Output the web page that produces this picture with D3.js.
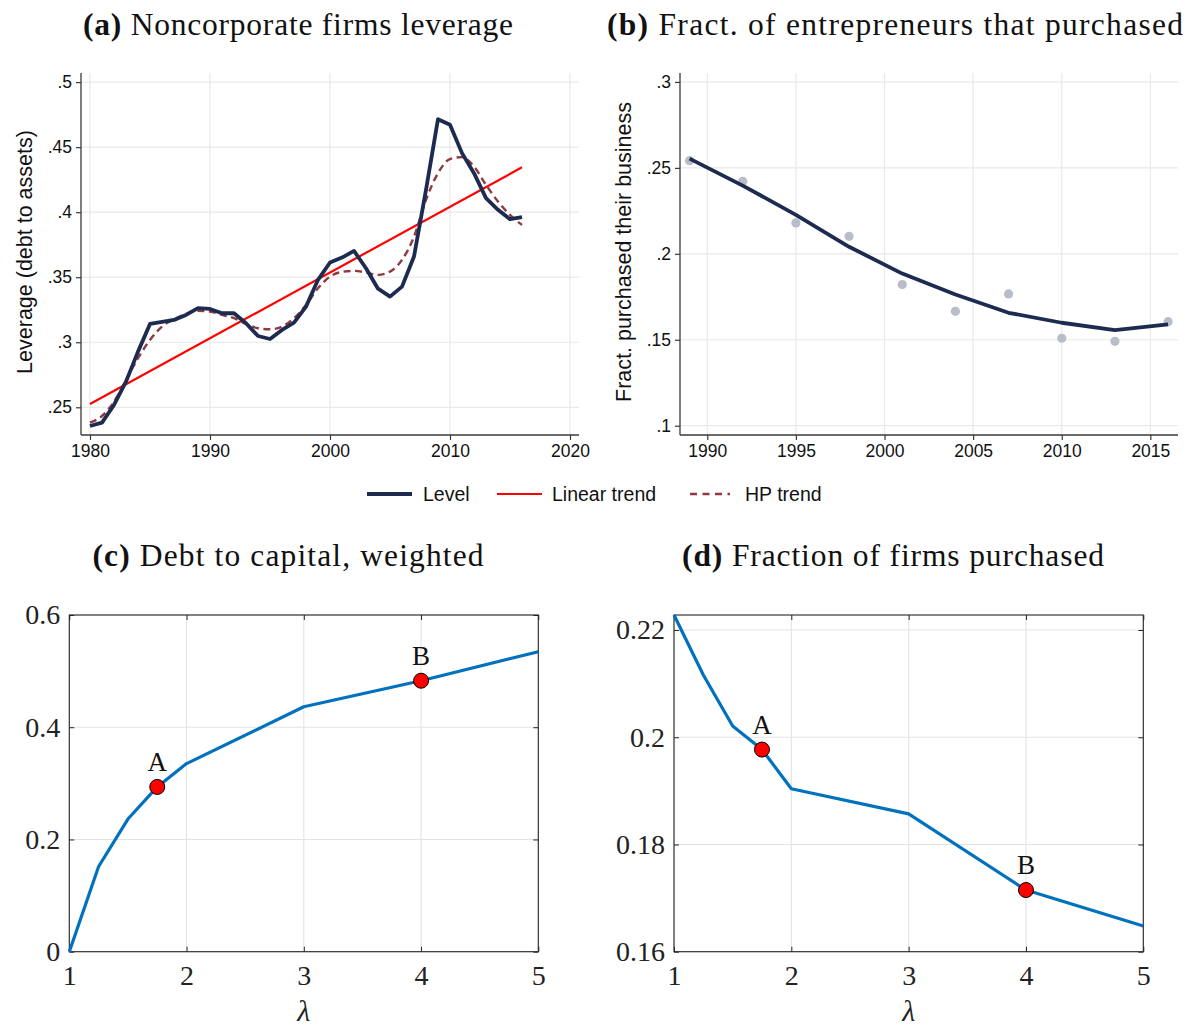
<!DOCTYPE html>
<html>
<head>
<meta charset="utf-8">
<script src="https://cdn.jsdelivr.net/npm/d3@7"></script>
<style>
  html, body { margin: 0; padding: 0; background: #fff; }
  svg { display: block; }
  .sans { font-family: "Liberation Sans", Arial, sans-serif; }
  .serif { font-family: "Liberation Serif", "Times New Roman", serif; }
</style>
</head>
<body>
<svg id="fig" width="1187" height="1028"></svg>
<script>
// ---- (a) Noncorporate firms leverage, annual 1980-2016 ----
const leverageYears = [1980,1981,1982,1983,1984,1985,1986,1987,1988,1989,1990,1991,1992,1993,1994,1995,1996,1997,1998,
  1999,2000,2001,2002,2003,2004,2005,2006,2007,2008,2009,2010,2011,2012,2013,2014,2015,2016];
const leverageLevel = [0.2356,0.2382,0.2518,0.2697,0.2928,0.3141,0.3156,0.3172,0.3210,0.3262,0.3256,0.3223,0.3223,0.3146,
  0.3048,0.3025,0.3095,0.3151,0.3274,0.3480,0.3613,0.3651,0.3702,0.3569,0.3412,0.3351,0.3428,0.3659,0.4172,0.4715,
  0.4672,0.4454,0.4300,0.4108,0.4018,0.3946,0.3962];
const leverageHP = [0.2382,0.2433,0.2543,0.2710,0.2877,0.3018,0.3120,0.3177,0.3218,0.3241,0.3236,0.3210,0.3185,0.3141,
  0.3108,0.3100,0.3120,0.3185,0.3287,0.3415,0.3505,0.3541,0.3549,0.3536,0.3518,0.3543,0.3633,0.3812,0.4095,0.4300,
  0.4408,0.4423,0.4351,0.4210,0.4082,0.3979,0.3902];
const linearTrendYears = [1980, 2016];
const linearTrendValues = [0.2525, 0.4345];
const leverageXTicks = [1980, 1990, 2000, 2010, 2020];
const leverageYTicks = [0.25, 0.30, 0.35, 0.40, 0.45, 0.50];

// ---- (b) Fraction of entrepreneurs that purchased their business ----
const surveyYears = [1989, 1992, 1995, 1998, 2001, 2004, 2007, 2010, 2013, 2016];
const purchasedShare = [0.2542, 0.2422, 0.2180, 0.2102, 0.1821, 0.1666, 0.1767, 0.1509, 0.1491, 0.1605];
const purchasedFit = [0.2554, 0.2397, 0.2227, 0.2041, 0.1885, 0.1763, 0.1657, 0.1599, 0.1556, 0.1589];
const purchasedXTicks = [1990, 1995, 2000, 2005, 2010, 2015];
const purchasedYTicks = [0.10, 0.15, 0.20, 0.25, 0.30];

// ---- (c), (d) model outcomes over lambda ----
const lambdaGrid = [1, 1.25, 1.5, 1.75, 2, 3, 4, 5];
const debtToCapital = [0, 0.1518, 0.2364, 0.2936, 0.3352, 0.4364, 0.4829, 0.5346];
const fractionPurchased = [0.2228, 0.2116, 0.2021, 0.1977, 0.1904, 0.1857, 0.1715, 0.1648];
const markedLabels = ["A", "B"];
const markedLambdas = [1.75, 4];
const lambdaTicks = [1, 2, 3, 4, 5];
const debtYTicks = [0, 0.2, 0.4, 0.6];
const fractionYTicks = [0.16, 0.18, 0.20, 0.22];

const legendLabels = ["Level", "Linear trend", "HP trend"];

const svg = d3.select("#fig");

const C = {
  navy: "#1c2b4f",
  red: "#ff0000",
  hp: "#8f3a40",
  dot: "#b9bdc9",
  grid: "#e9e9e9",
  axis: "#3a3a3a",
  blue: "#0072bd",
  box: "#262626",
  mgrid: "#e3e3e3"
};

function title(x, y, tag, text, width) {
  const t = svg.append("text").attr("class", "serif")
    .attr("x", x).attr("y", y).attr("text-anchor", "middle")
    .attr("font-size", 31.5).attr("fill", "#111");
  t.append("tspan").attr("font-weight", "bold").text(tag + " ");
  t.append("tspan").text(text);
  t.attr("textLength", width).attr("lengthAdjust", "spacing");
}

// Stata-style panel: left + bottom axes, outward ticks, light grid
function stataPanel(box, xDomain, yDomain, xTicks, yTicks, yFmt, yTitle) {
  const x = d3.scaleLinear().domain(xDomain).range([box.left, box.right]);
  const y = d3.scaleLinear().domain(yDomain).range([box.bottom, box.top]);
  const g = svg.append("g");
  g.append("g").selectAll("line").data(yTicks).join("line")
    .attr("x1", box.left).attr("x2", box.right)
    .attr("y1", d => y(d)).attr("y2", d => y(d))
    .attr("stroke", C.grid).attr("stroke-width", 1.2);
  g.append("g").selectAll("line").data(xTicks).join("line")
    .attr("x1", d => x(d)).attr("x2", d => x(d))
    .attr("y1", box.top).attr("y2", box.bottom)
    .attr("stroke", C.grid).attr("stroke-width", 1.2);

  const ya = g.append("g").attr("transform", `translate(${box.left},0)`)
    .call(d3.axisLeft(y).tickValues(yTicks).tickFormat(yFmt).tickSize(5).tickPadding(4));
  const xa = g.append("g").attr("transform", `translate(0,${box.bottom})`)
    .call(d3.axisBottom(x).tickValues(xTicks).tickFormat(d3.format("d")).tickSize(5).tickPadding(5));
  [ya, xa].forEach(a => {
    a.select(".domain").remove();
    a.selectAll("line").attr("stroke", C.axis).attr("stroke-width", 1.2);
    a.selectAll("text").attr("class", "sans").attr("font-size", 17.5).attr("fill", "#111");
  });
  g.append("line").attr("x1", box.left).attr("x2", box.left)
    .attr("y1", box.top).attr("y2", box.bottom).attr("stroke", C.axis).attr("stroke-width", 1.3);
  g.append("line").attr("x1", box.left).attr("x2", box.right)
    .attr("y1", box.bottom).attr("y2", box.bottom).attr("stroke", C.axis).attr("stroke-width", 1.3);

  svg.append("text").attr("class", "sans")
    .attr("transform", `translate(${box.left - 49},${(box.top + box.bottom) / 2 - 2}) rotate(-90)`)
    .attr("text-anchor", "middle").attr("font-size", 21.5).attr("fill", "#111")
    .text(yTitle);
  return { x, y, g };
}

function stataFmt(d) {
  // .5, .45, .3 ...
  return d3.format(".2~f")(d).replace(/^0/, "");
}

// ---------- Panel (a) ----------
title(298, 35, "(a)", "Noncorporate firms leverage", 430);
const pa = stataPanel({ left: 81, right: 579, top: 73, bottom: 435 },
  [1979.25, 2020.75], [0.2287, 0.507], leverageXTicks, leverageYTicks, stataFmt,
  "Leverage (debt to assets)");

pa.g.append("path").datum(linearTrendValues)
  .attr("d", d3.line().x((d, i) => pa.x(linearTrendYears[i])).y(d => pa.y(d)))
  .attr("fill", "none").attr("stroke", C.red).attr("stroke-width", 2.2);
pa.g.append("path").datum(leverageHP)
  .attr("d", d3.line().x((d, i) => pa.x(leverageYears[i])).y(d => pa.y(d)).curve(d3.curveMonotoneX))
  .attr("fill", "none").attr("stroke", C.hp).attr("stroke-width", 2.4)
  .attr("stroke-dasharray", "7,4.5");
pa.g.append("path").datum(leverageLevel)
  .attr("d", d3.line().x((d, i) => pa.x(leverageYears[i])).y(d => pa.y(d)))
  .attr("fill", "none").attr("stroke", C.navy).attr("stroke-width", 3.8)
  .attr("stroke-linejoin", "round");

// ---------- Panel (b) ----------
title(895, 35, "(b)", "Fract. of entrepreneurs that purchased", 576);
const pb = stataPanel({ left: 680, right: 1178, top: 73, bottom: 435 },
  [1988.46, 2016.56], [0.0946, 0.3052], purchasedXTicks, purchasedYTicks, stataFmt,
  "Fract. purchased their business");
pb.g.append("g").selectAll("circle").data(purchasedShare).join("circle")
  .attr("cx", (d, i) => pb.x(surveyYears[i])).attr("cy", d => pb.y(d))
  .attr("r", 4.6).attr("fill", C.dot);
pb.g.append("path").datum(purchasedFit)
  .attr("d", d3.line().x((d, i) => pb.x(surveyYears[i])).y(d => pb.y(d)))
  .attr("fill", "none").attr("stroke", C.navy).attr("stroke-width", 3.8)
  .attr("stroke-linejoin", "round");

// ---------- Legend ----------
const legend = svg.append("g").attr("class", "sans");
const legendItems = [
  { x0: 367, x1: 412, tx: 423, stroke: C.navy, w: 3.8, dash: null },
  { x0: 497, x1: 542, tx: 552, stroke: C.red, w: 2.2, dash: null },
  { x0: 690, x1: 730, tx: 745, stroke: C.hp, w: 2.4, dash: "7,5.5" }
];
legendItems.forEach((it, i) => {
  legend.append("line").attr("x1", it.x0).attr("x2", it.x1).attr("y1", 494).attr("y2", 494)
    .attr("stroke", it.stroke).attr("stroke-width", it.w).attr("stroke-dasharray", it.dash);
  legend.append("text").attr("x", it.tx).attr("y", 501).attr("font-size", 19.5).attr("fill", "#111")
    .text(legendLabels[i]);
});

// MATLAB-style panel: full box, inward ticks on all sides, grid
function matlabPanel(box, yDomain, yTicks, yFmt) {
  const x = d3.scaleLinear().domain([1, 5]).range([box.left, box.right]);
  const y = d3.scaleLinear().domain(yDomain).range([box.bottom, box.top]);
  const g = svg.append("g");
  g.append("g").selectAll("line").data(yTicks).join("line")
    .attr("x1", box.left).attr("x2", box.right)
    .attr("y1", d => y(d)).attr("y2", d => y(d))
    .attr("stroke", C.mgrid).attr("stroke-width", 1.1);
  g.append("g").selectAll("line").data(lambdaTicks).join("line")
    .attr("x1", d => x(d)).attr("x2", d => x(d))
    .attr("y1", box.top).attr("y2", box.bottom)
    .attr("stroke", C.mgrid).attr("stroke-width", 1.1);

  const axes = [
    g.append("g").attr("transform", `translate(${box.left},0)`)
      .call(d3.axisLeft(y).tickValues(yTicks).tickFormat(yFmt).tickSize(-5).tickPadding(9)),
    g.append("g").attr("transform", `translate(${box.right},0)`)
      .call(d3.axisRight(y).tickValues(yTicks).tickFormat("").tickSize(-5)),
    g.append("g").attr("transform", `translate(0,${box.bottom})`)
      .call(d3.axisBottom(x).tickValues(lambdaTicks).tickFormat(d3.format("d")).tickSize(-5).tickPadding(13)),
    g.append("g").attr("transform", `translate(0,${box.top})`)
      .call(d3.axisTop(x).tickValues(lambdaTicks).tickFormat("").tickSize(-5))
  ];
  axes.forEach(a => {
    a.select(".domain").remove();
    a.selectAll("line").attr("stroke", C.box).attr("stroke-width", 1);
    a.selectAll("text").attr("class", "serif").attr("font-size", 28).attr("fill", "#222");
  });
  g.append("rect").attr("x", box.left).attr("y", box.top)
    .attr("width", box.right - box.left).attr("height", box.bottom - box.top)
    .attr("fill", "none").attr("stroke", C.box).attr("stroke-width", 1.1);

  svg.append("text").attr("class", "serif")
    .attr("x", (box.left + box.right) / 2).attr("y", 1021)
    .attr("text-anchor", "middle").attr("font-size", 30).attr("font-style", "italic")
    .attr("fill", "#222").text("λ");
  return { x, y, g };
}

function drawModelCurve(p, values) {
  p.g.append("path").datum(values)
    .attr("d", d3.line().x((d, i) => p.x(lambdaGrid[i])).y(d => p.y(d)))
    .attr("fill", "none").attr("stroke", C.blue).attr("stroke-width", 3.2)
    .attr("stroke-linejoin", "round");
  markedLambdas.forEach((lam, k) => {
    const v = values[lambdaGrid.indexOf(lam)];
    p.g.append("circle").attr("cx", p.x(lam)).attr("cy", p.y(v)).attr("r", 7.5)
      .attr("fill", C.red).attr("stroke", "#000").attr("stroke-width", 1);
    svg.append("text").attr("class", "serif")
      .attr("x", p.x(lam)).attr("y", p.y(v) - 16).attr("text-anchor", "middle")
      .attr("font-size", 27).attr("fill", "#111").text(markedLabels[k]);
  });
}

// ---------- Panel (c) ----------
title(288, 566, "(c)", "Debt to capital, weighted", 391);
const pc = matlabPanel({ left: 69.3, right: 538.3, top: 615, bottom: 951.7 },
  [0, 0.6], debtYTicks, d => d === 0 ? "0" : d3.format(".1f")(d));
drawModelCurve(pc, debtToCapital);

// ---------- Panel (d) ----------
title(893, 566, "(d)", "Fraction of firms purchased", 422);
const pd = matlabPanel({ left: 674, right: 1143.3, top: 615, bottom: 951.7 },
  [0.16, 0.2228], fractionYTicks, d => d3.format(".2~f")(d));
drawModelCurve(pd, fractionPurchased);
</script>
</body>
</html>
